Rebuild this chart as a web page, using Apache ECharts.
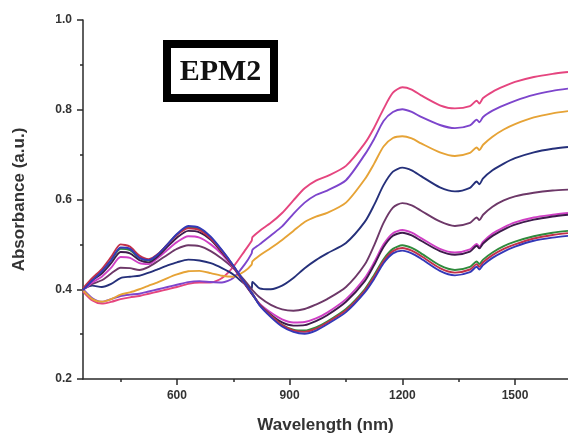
<!DOCTYPE html>
<html>
<head>
<meta charset="utf-8">
<script src="https://cdn.jsdelivr.net/npm/echarts@6/dist/echarts.min.js"></script>
<style>
  html, body { margin: 0; padding: 0; background: #fff; }
  #chart { width: 568px; height: 439px; }
</style>
</head>
<body>
<div id="chart"></div>
<script>
// Wavelength sampling points (nm), shared by every spectrum
const wavelengths = [350,375,400,425,450,475,500,525,550,575,600,630,660,690,720,750,780,799,801,820,850,880,910,940,970,1000,1050,1100,1125,1150,1175,1200,1225,1250,1300,1340,1380,1398,1405,1415,1440,1470,1500,1550,1600,1641];

// Absorbance spectra (a.u.)
const specPink = [0.395,0.375,0.368,0.372,0.378,0.382,0.385,0.390,0.395,0.400,0.405,0.412,0.415,0.415,0.425,0.450,0.485,0.508,0.516,0.530,0.548,0.570,0.598,0.625,0.642,0.652,0.675,0.725,0.760,0.802,0.838,0.850,0.845,0.832,0.810,0.803,0.808,0.820,0.814,0.826,0.840,0.852,0.862,0.873,0.880,0.884];
const specViolet = [0.400,0.380,0.372,0.378,0.385,0.388,0.390,0.395,0.400,0.405,0.410,0.416,0.418,0.416,0.415,0.425,0.455,0.480,0.488,0.500,0.520,0.540,0.568,0.593,0.610,0.620,0.643,0.700,0.735,0.775,0.795,0.801,0.795,0.784,0.766,0.759,0.765,0.778,0.772,0.784,0.798,0.810,0.820,0.833,0.842,0.847];
const specOrange = [0.398,0.378,0.372,0.378,0.388,0.393,0.400,0.408,0.416,0.425,0.433,0.440,0.441,0.436,0.430,0.428,0.440,0.455,0.462,0.475,0.492,0.510,0.530,0.550,0.562,0.570,0.593,0.645,0.680,0.718,0.737,0.741,0.736,0.725,0.705,0.697,0.704,0.716,0.710,0.722,0.740,0.756,0.768,0.783,0.792,0.797];
const specNavy = [0.400,0.408,0.405,0.412,0.425,0.428,0.430,0.437,0.445,0.453,0.460,0.466,0.464,0.458,0.447,0.433,0.412,0.402,0.416,0.402,0.400,0.408,0.425,0.447,0.465,0.480,0.503,0.550,0.588,0.632,0.662,0.671,0.665,0.652,0.627,0.618,0.626,0.640,0.634,0.647,0.665,0.680,0.692,0.705,0.713,0.717];
const specMaroon = [0.400,0.412,0.420,0.435,0.448,0.447,0.443,0.450,0.463,0.477,0.490,0.498,0.496,0.485,0.468,0.447,0.420,0.400,0.398,0.382,0.365,0.355,0.352,0.356,0.366,0.378,0.405,0.455,0.498,0.548,0.582,0.592,0.587,0.575,0.551,0.541,0.548,0.560,0.554,0.566,0.584,0.598,0.607,0.615,0.620,0.622];
const specMagenta = [0.398,0.415,0.428,0.448,0.472,0.470,0.458,0.456,0.470,0.488,0.505,0.518,0.515,0.500,0.478,0.448,0.412,0.390,0.388,0.368,0.348,0.333,0.326,0.327,0.335,0.348,0.378,0.425,0.460,0.500,0.525,0.532,0.526,0.514,0.490,0.482,0.489,0.501,0.495,0.506,0.524,0.538,0.549,0.560,0.566,0.570];
const specPlum = [0.400,0.420,0.435,0.458,0.483,0.480,0.465,0.460,0.474,0.495,0.515,0.530,0.527,0.510,0.482,0.450,0.413,0.390,0.388,0.366,0.343,0.326,0.319,0.320,0.329,0.342,0.372,0.418,0.454,0.494,0.519,0.526,0.520,0.508,0.485,0.477,0.484,0.497,0.491,0.502,0.519,0.533,0.544,0.555,0.562,0.566];
const specGreen = [0.400,0.422,0.440,0.465,0.490,0.487,0.470,0.464,0.478,0.500,0.522,0.538,0.534,0.515,0.486,0.452,0.414,0.392,0.390,0.366,0.341,0.321,0.310,0.308,0.315,0.328,0.356,0.400,0.432,0.467,0.490,0.498,0.492,0.480,0.453,0.443,0.450,0.462,0.456,0.466,0.482,0.496,0.506,0.518,0.526,0.530];
const specCrimson = [0.402,0.425,0.445,0.472,0.500,0.495,0.475,0.467,0.479,0.500,0.521,0.536,0.532,0.513,0.485,0.452,0.414,0.392,0.390,0.366,0.341,0.320,0.308,0.305,0.312,0.326,0.353,0.397,0.428,0.463,0.485,0.492,0.486,0.474,0.447,0.437,0.444,0.456,0.450,0.460,0.476,0.490,0.500,0.513,0.521,0.525];
const specBlue = [0.398,0.420,0.440,0.465,0.493,0.490,0.470,0.465,0.478,0.500,0.523,0.541,0.537,0.517,0.487,0.453,0.415,0.392,0.390,0.364,0.338,0.317,0.305,0.301,0.308,0.322,0.349,0.393,0.423,0.458,0.480,0.486,0.480,0.468,0.441,0.431,0.438,0.450,0.444,0.454,0.470,0.484,0.495,0.508,0.515,0.519];

const spectra = [
  { name: 'pink', color: '#e5457f', values: specPink },
  { name: 'violet', color: '#7d45cc', values: specViolet },
  { name: 'orange', color: '#e6a336', values: specOrange },
  { name: 'navy', color: '#25307a', values: specNavy },
  { name: 'maroon', color: '#6d3868', values: specMaroon },
  { name: 'magenta', color: '#cf3fc4', values: specMagenta },
  { name: 'plum', color: '#3e1a4c', values: specPlum },
  { name: 'green', color: '#2f8a3c', values: specGreen },
  { name: 'crimson', color: '#c2304a', values: specCrimson },
  { name: 'blue', color: '#3438b8', values: specBlue }
];

// Tick positions and labels
const xMajorTicks = [600, 900, 1200, 1500];
const xMinorTicks = [450, 750, 1050, 1350];
const xRange = [350, 1641];
const yRange = [0.2, 1.0];
const yStep = 0.2;

const labelFont = { fontFamily: 'Liberation Sans, Arial, sans-serif', fontWeight: 'bold', color: '#333' };
const axisLine = { show: true, lineStyle: { color: '#2a2a2a', width: 1.5 } };

const chart = echarts.init(document.getElementById('chart'), null, { renderer: 'canvas' });

chart.setOption({
  animation: false,
  backgroundColor: '#fff',
  grid: { left: 83, right: 0, top: 20, bottom: 57, containLabel: false },
  xAxis: [
    {
      type: 'value', min: xRange[0], max: xRange[1], position: 'bottom',
      name: 'Wavelength (nm)', nameLocation: 'middle', nameGap: 38,
      nameTextStyle: Object.assign({ fontSize: 17 }, labelFont),
      axisLine: axisLine,
      axisTick: { show: true, length: 6, lineStyle: { color: '#2a2a2a', width: 1.5 }, customValues: xMajorTicks },
      axisLabel: Object.assign({ fontSize: 12, margin: 11, customValues: xMajorTicks, formatter: v => String(v) }, labelFont),
      splitLine: { show: false }
    },
    {
      type: 'value', min: xRange[0], max: xRange[1], position: 'bottom',
      axisLine: { show: false },
      axisTick: { show: true, length: 3, lineStyle: { color: '#2a2a2a', width: 1.5 }, customValues: xMinorTicks },
      axisLabel: { show: false },
      splitLine: { show: false }
    }
  ],
  yAxis: {
    type: 'value', min: yRange[0], max: yRange[1], interval: yStep,
    name: 'Absorbance (a.u.)', nameLocation: 'middle', nameGap: 55, nameRotate: 90,
    nameTextStyle: Object.assign({ fontSize: 17 }, labelFont),
    axisLine: axisLine,
    axisTick: { show: true, length: 6, lineStyle: { color: '#2a2a2a', width: 1.5 } },
    minorTick: { show: true, splitNumber: 2, length: 3, lineStyle: { color: '#2a2a2a', width: 1.5 } },
    axisLabel: Object.assign({ fontSize: 12, margin: 11, formatter: v => v.toFixed(1) }, labelFont),
    splitLine: { show: false },
    minorSplitLine: { show: false }
  },
  graphic: [
    {
      type: 'group', left: 163, top: 40,
      children: [
        { type: 'rect', shape: { x: 4, y: 4, width: 107, height: 54 }, style: { fill: '#fff', stroke: '#000', lineWidth: 8 } },
        { type: 'text', x: 57.5, y: 32, style: { text: 'EPM2', fontFamily: 'Liberation Serif, Times New Roman, serif', fontWeight: 'bold', fontSize: 30, fill: '#111', align: 'center', verticalAlign: 'middle' } }
      ]
    }
  ],
  series: spectra.map(s => ({
    name: s.name,
    type: 'line',
    xAxisIndex: 0,
    showSymbol: false,
    smooth: 0.25,
    lineStyle: { color: s.color, width: 1.9 },
    data: wavelengths.map((w, i) => [w, s.values[i]])
  }))
});
</script>
</body>
</html>
